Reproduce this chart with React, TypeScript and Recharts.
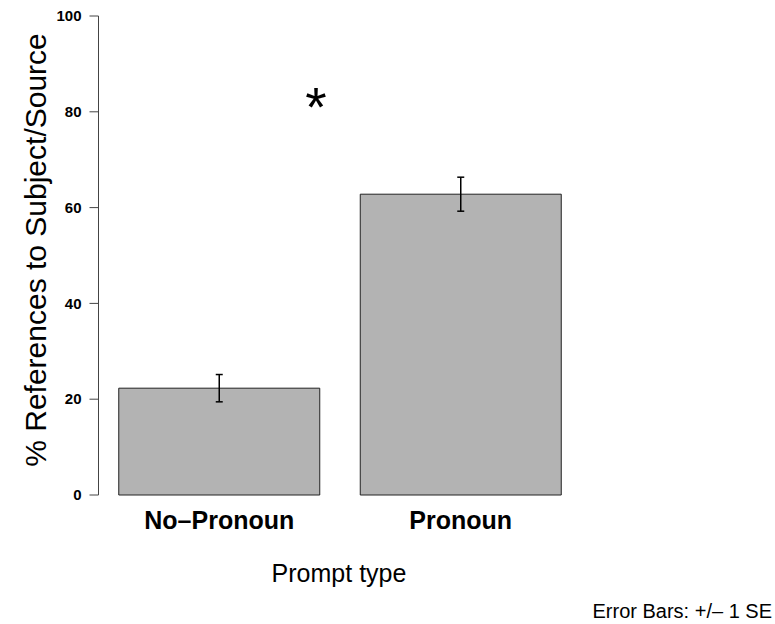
import { BarChart, Bar, XAxis, YAxis, ErrorBar, Label, Customized } from "recharts"

const categories = ["No\u2013Pronoun", "Pronoun"]
const percentages = [22.3, 62.8]
const standardErrors = [2.85, 3.55]
const yTicks = [0, 20, 40, 60, 80, 100]

const data = categories.map((name, i) => ({
  name,
  pct: percentages[i],
  se: standardErrors[i],
}))

const FONT = "'Liberation Sans', Arial, Helvetica, sans-serif"

// y tick: bold number, right-aligned left of the tick mark
const YTick = (props: any) => {
  const { x, y, payload } = props
  return (
    <text x={x} y={y} dy="0.35em" textAnchor="end" fontSize={15} fontWeight="bold" fontFamily={FONT} fill="#000">
      {payload.value}
    </text>
  )
}

export default function App() {
  return (
    <div style={{ position: "absolute", left: 0, top: 0, fontFamily: FONT }}>
      <BarChart
        width={775}
        height={624}
        data={data}
        margin={{ top: 16, right: 193.5, bottom: 99, left: 38.5 }}
        barCategoryGap={20.25}
      >
        <XAxis
          dataKey="name"
          height={30}
          axisLine={false}
          tickLine={false}
          tickSize={0}
          tickMargin={16}
          tick={{ fill: "#000", fontSize: 25, fontWeight: "bold", fontFamily: FONT }}
        >
          <Label
            content={() => (
              <text x={339} y={582} textAnchor="middle" fontSize={25} fontFamily={FONT} fill="#000">
                Prompt type
              </text>
            )}
          />
        </XAxis>
        <YAxis
          width={60}
          domain={[0, 100]}
          ticks={yTicks}
          interval={0}
          tickSize={9}
          tickMargin={8}
          stroke="#444"
          tick={<YTick />}
        >
          <Label
            content={() => (
              <text
                x={46}
                y={250}
                transform="rotate(-90 46 250)"
                textAnchor="middle"
                fontSize={30}
                fontFamily={FONT}
                fill="#000"
              >
                % References to Subject/Source
              </text>
            )}
          />
        </YAxis>
        <Bar dataKey="pct" fill="#b3b3b3" stroke="#222" strokeWidth={1} isAnimationActive={false}>
          <ErrorBar dataKey="se" width={3.5} stroke="#000" strokeWidth={1.5} isAnimationActive={false} />
        </Bar>
        <Customized
          component={() => (
            <g>
              <text x={316} y={126} textAnchor="middle" fontSize={55} fontFamily={FONT} fill="#000">
                *
              </text>
              <text x={772} y={618} textAnchor="end" fontSize={20} fontFamily={FONT} fill="#000">
                Error Bars: +/{"\u2013"} 1 SE
              </text>
            </g>
          )}
        />
      </BarChart>
    </div>
  )
}
